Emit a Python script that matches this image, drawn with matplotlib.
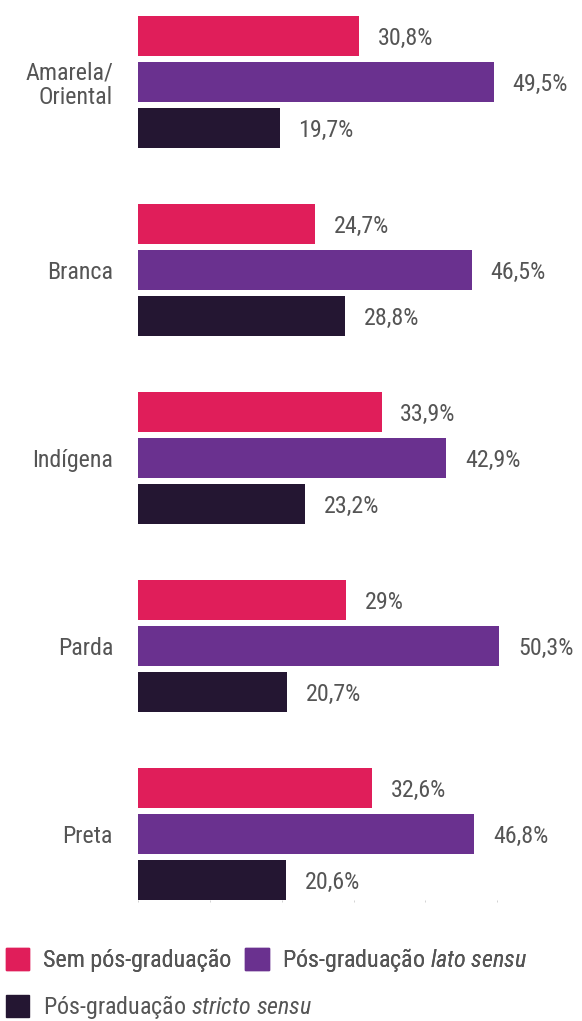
import matplotlib
matplotlib.use("Agg")
import matplotlib.pyplot as plt
from matplotlib.patches import Patch
from matplotlib import font_manager
import numpy as np

categories = ["Amarela/\nOriental", "Branca", "Indígena", "Parda", "Preta"]
sem_pos = [30.8, 24.7, 33.9, 29.0, 32.6]
lato_sensu = [49.5, 46.5, 42.9, 50.3, 46.8]
stricto_sensu = [19.7, 28.8, 23.2, 20.7, 20.6]
series_labels = [
    "Sem pós-graduação",
    r"Pós-graduação $\mathit{lato\ sensu}$",
    r"Pós-graduação $\mathit{stricto\ sensu}$",
]
colors = ["#E01E5A", "#6A318F", "#241632"]

names = {f.name for f in font_manager.fontManager.ttflist}
family = "Roboto Condensed" if "Roboto Condensed" in names else "Roboto"
plt.rcParams["font.family"] = [family, "DejaVu Sans"]
plt.rcParams["mathtext.fontset"] = "custom"
plt.rcParams["mathtext.rm"] = family
plt.rcParams["mathtext.it"] = family + ":italic"

text_color = "#555555"
fs = 17.3

fig = plt.figure(figsize=(5.82, 10.21), dpi=100)
ax = fig.add_axes([138 / 582, 121 / 1021, 431 / 582, 884 / 1021])

y = np.arange(len(categories))
pitch = 0.2447
height = 0.213

for i, (vals, color) in enumerate(zip([sem_pos, lato_sensu, stricto_sensu], colors)):
    pos = y + (i - 1) * pitch
    ax.barh(pos, vals, height=height, color=color)
    for p, v in zip(pos, vals):
        label = f"{v:.1f}".replace(".", ",").replace(",0", "") + "%"
        ax.annotate(label, (v, p), xytext=(13.5, -1.5), textcoords="offset points",
                    ha="left", va="center", fontsize=fs, color=text_color)

ax.set_xlim(0, 60)
ax.set_ylim(len(categories) - 1 + 0.351, -0.351)
ax.set_yticks(y)
ax.set_yticklabels(categories, fontsize=fs, color=text_color, linespacing=1.1)
ax.tick_params(axis="y", length=0, pad=18)
ax.set_xticks([0, 10, 20, 30, 40, 50])
ax.set_xticklabels([])
ax.tick_params(axis="x", length=1.5, width=0.6, color="#cccccc")
for s in ax.spines.values():
    s.set_visible(False)

# legend: two rows, first row holds two entries, second row one
leg_kw = dict(frameon=False, fontsize=fs, labelcolor=text_color,
              handlelength=0.97, handleheight=1.05, handletextpad=0.55,
              columnspacing=0.6, borderaxespad=0, borderpad=0, loc="center left")
handles = [Patch(color=c) for c in colors]
leg1 = fig.legend(handles[:2], series_labels[:2], ncol=2,
                  bbox_to_anchor=(6 / 582, 1 - 960 / 1021), **leg_kw)
fig.add_artist(leg1)
fig.legend(handles[2:], series_labels[2:], ncol=1,
           bbox_to_anchor=(6 / 582, 1 - 1007 / 1021), **leg_kw)

fig.savefig("out.png", dpi=100)
